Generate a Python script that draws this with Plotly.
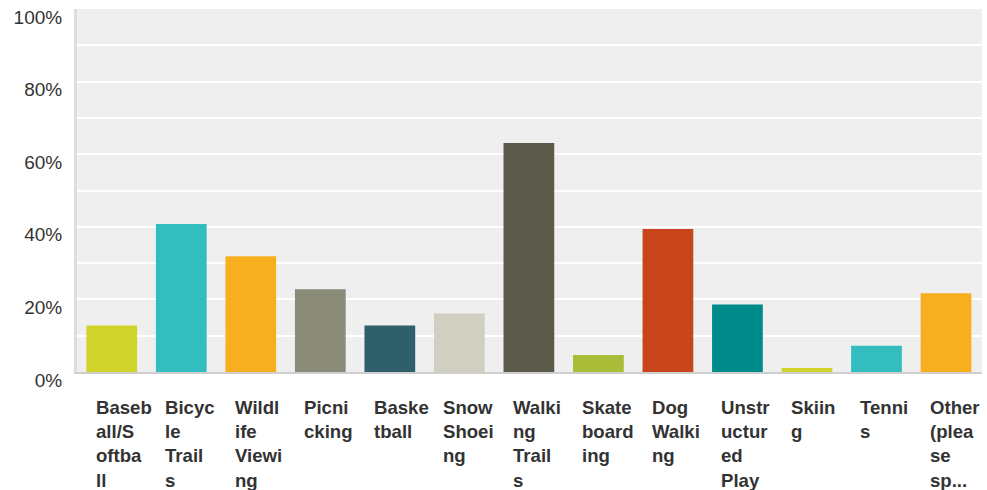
import plotly.graph_objects as go

categories = ["Baseball/Softball", "Bicycle Trails", "Wildlife Viewing", "Picnicking",
              "Basketball", "Snow Shoeing", "Walking Trails", "Skateboarding",
              "Dog Walking", "Unstructured Play", "Skiing", "Tennis", "Other (please sp..."]
values = [12.8, 40.8, 31.9, 22.8, 12.8, 16.1, 63.1, 4.7, 39.4, 18.6, 1.1, 7.2, 21.7]
colors = ["#D0D32A", "#33BDBF", "#F7AF1F", "#8A8B79", "#2F5F6B", "#D0CFC1", "#5C5B4B",
          "#A9BD38", "#C8441B", "#008B8B", "#D0D32A", "#33BDBF", "#F7AF1F"]
label_lines = [["Baseb", "all/S", "oftba", "ll"], ["Bicyc", "le", "Trail", "s"],
               ["Wildl", "ife", "Viewi", "ng"], ["Picni", "cking"], ["Baske", "tball"],
               ["Snow", "Shoei", "ng"], ["Walki", "ng", "Trail", "s"], ["Skate", "board", "ing"],
               ["Dog", "Walki", "ng"], ["Unstr", "uctur", "ed", "Play"], ["Skiin", "g"],
               ["Tenni", "s"], ["Other", "(plea", "se", "sp..."]]
y_ticks = [0, 20, 40, 60, 80, 100]
y_ticktext = ["0%", "20%", "40%", "60%", "80%", "100%"]

fig = go.Figure(go.Bar(x=categories, y=values, marker=dict(color=colors, line=dict(width=0)),
                       hoverinfo="x+y"))

for cat, lines in zip(categories, label_lines):
    fig.add_annotation(x=cat, xref="x", y=0, yref="paper", xanchor="left", yanchor="top",
                       xshift=-18, yshift=-23, align="left", showarrow=False,
                       text="<b>" + "<br>".join(lines) + "</b>",
                       font=dict(family="Liberation Sans, Arial", size=18.6, color="#333333"))

fig.update_layout(
    width=987, height=490,
    margin=dict(l=77, r=5, t=9, b=118),
    paper_bgcolor="white", plot_bgcolor="#EFEFEF",
    bargap=0.27, showlegend=False,
    font=dict(family="Liberation Sans, Arial", color="#333333"),
    xaxis=dict(showticklabels=False, showgrid=False, showline=True, linecolor="#CFCFCF",
               linewidth=2, ticks="", fixedrange=True),
    yaxis=dict(range=[0, 100], tickvals=y_ticks, ticktext=y_ticktext,
               showgrid=True, gridcolor="white", gridwidth=2,
               minor=dict(dtick=10, showgrid=True, gridcolor="white", gridwidth=2),
               showline=True, linecolor="#DDDDDD", linewidth=3, zeroline=False,
               ticks="", ticklabelstandoff=8, ticklabelshift=8,
               tickfont=dict(size=19, color="#333333"), fixedrange=True),
)
fig.write_html("out.html", config={"displayModeBar": False},
               post_script="document.body.style.margin='0px';")
